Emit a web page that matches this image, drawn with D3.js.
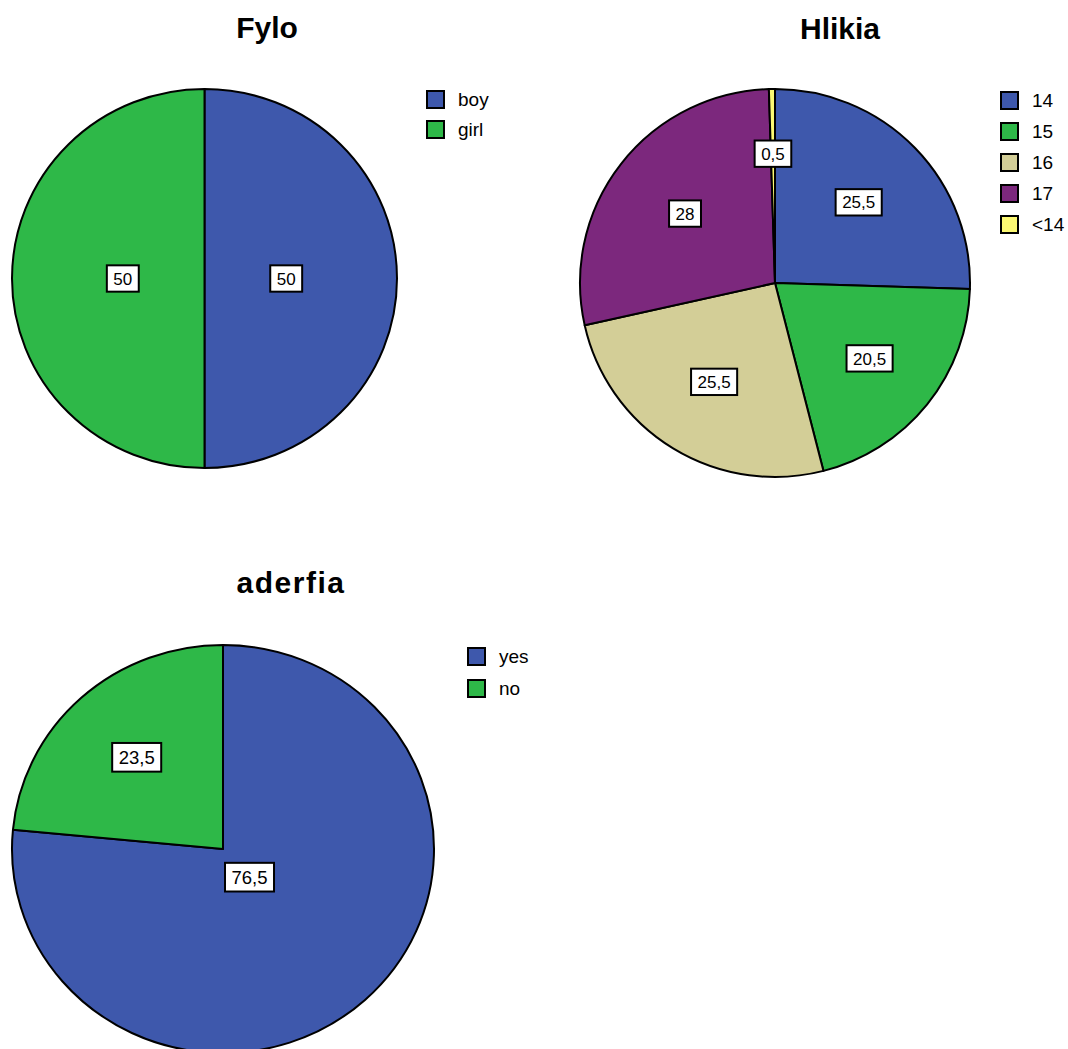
<!DOCTYPE html>
<html>
<head>
<meta charset="utf-8">
<script src="https://cdn.jsdelivr.net/npm/d3@7"></script>
<style>
  body { margin: 0; background: #fff; }
  text { font-family: "Liberation Sans", Arial, Helvetica, sans-serif; }
</style>
</head>
<body>
<div id="chart"></div>
<script>
// data
const fyloCategories = ["boy", "girl"];
const fyloValues = [50, 50];

const hlikiaCategories = ["14", "15", "16", "17", "<14"];
const hlikiaValues = [25.5, 20.5, 25.5, 28, 0.5];

const aderfiaCategories = ["yes", "no"];
const aderfiaValues = [76.5, 23.5];

const palette = ["#3E58AC", "#2EB848", "#D3CE97", "#7C287D", "#FBF873"];

const width = 1068;
const height = 1049;

const svg = d3
  .select("#chart")
  .append("svg")
  .attr("width", width)
  .attr("height", height);

// comma as decimal separator
const fmt = (v) => String(v).replace(".", ",");

function drawPie(opts) {
  const { title, categories, values, cx, cy, rx, ry, titleX, titleY, titleSpacing, legendX, legendY, legendStep, labelSize } = opts;
  const data = categories.map((c, i) => ({ cat: c, value: values[i], color: palette[i] }));

  const pie = d3.pie().sort(null).value((d) => d.value);
  const arcs = pie(data);
  const arc = d3.arc().innerRadius(0).outerRadius(rx);
  const k = ry / rx;

  // title
  svg
    .append("text")
    .attr("x", titleX)
    .attr("y", titleY)
    .attr("text-anchor", "middle")
    .style("font-size", "30px")
    .style("font-weight", "bold")
    .style("letter-spacing", (titleSpacing || 0) + "px")
    .text(title);

  // slices (slightly squashed like the original)
  const g = svg.append("g").attr("transform", `translate(${cx},${cy}) scale(1,${k})`);
  g.selectAll("path")
    .data(arcs)
    .join("path")
    .attr("d", arc)
    .attr("fill", (d) => d.data.color)
    .attr("stroke", "#000")
    .attr("stroke-width", 2)
    .attr("stroke-linejoin", "round")
    .attr("vector-effect", "non-scaling-stroke");

  // labels at the area centroid of each sector
  const lg = svg.append("g").attr("transform", `translate(${cx},${cy})`);
  arcs.forEach((d) => {
    const mid = (d.startAngle + d.endAngle) / 2;
    const half = (d.endAngle - d.startAngle) / 2;
    const dist = half > 1e-6 ? (2 * rx * Math.sin(half)) / (3 * half) : (2 * rx) / 3;
    const x = dist * Math.sin(mid);
    const y = -dist * Math.cos(mid) * k;

    const item = lg.append("g").attr("transform", `translate(${x},${y})`);
    const rect = item.append("rect");
    const t = item
      .append("text")
      .attr("text-anchor", "middle")
      .attr("dy", "0.36em")
      .style("font-size", labelSize + "px")
      .text(fmt(d.data.value));
    const bb = t.node().getBBox();
    const padX = 6.5;
    const h = labelSize * 1.55;
    rect
      .attr("x", bb.x - padX)
      .attr("y", -h / 2)
      .attr("width", bb.width + 2 * padX)
      .attr("height", h)
      .attr("fill", "#fff")
      .attr("stroke", "#000")
      .attr("stroke-width", 2);
  });

  // legend
  const leg = svg
    .append("g")
    .selectAll("g")
    .data(data)
    .join("g")
    .attr("transform", (d, i) => `translate(${legendX},${legendY + i * legendStep})`);
  leg
    .append("rect")
    .attr("width", 17)
    .attr("height", 17)
    .attr("fill", (d) => d.color)
    .attr("stroke", "#000")
    .attr("stroke-width", 2);
  leg
    .append("text")
    .attr("x", 31)
    .attr("y", 8.5)
    .attr("dy", "0.36em")
    .style("font-size", "19px")
    .text((d) => d.cat);
}

drawPie({
  title: "Fylo",
  categories: fyloCategories,
  values: fyloValues,
  cx: 204.5, cy: 278.5, rx: 192.5, ry: 189.5,
  titleX: 267, titleY: 38,
  legendX: 427, legendY: 91, legendStep: 30,
  labelSize: 17
});

drawPie({
  title: "Hlikia",
  categories: hlikiaCategories,
  values: hlikiaValues,
  cx: 775, cy: 283, rx: 195, ry: 194,
  titleX: 840, titleY: 39,
  legendX: 1001, legendY: 92, legendStep: 31,
  labelSize: 17
});

drawPie({
  title: "aderfia",
  categories: aderfiaCategories,
  values: aderfiaValues,
  cx: 223, cy: 849, rx: 211, ry: 204,
  titleX: 291, titleY: 593, titleSpacing: 1.5,
  legendX: 468, legendY: 648, legendStep: 32,
  labelSize: 18.5
});
</script>
</body>
</html>
